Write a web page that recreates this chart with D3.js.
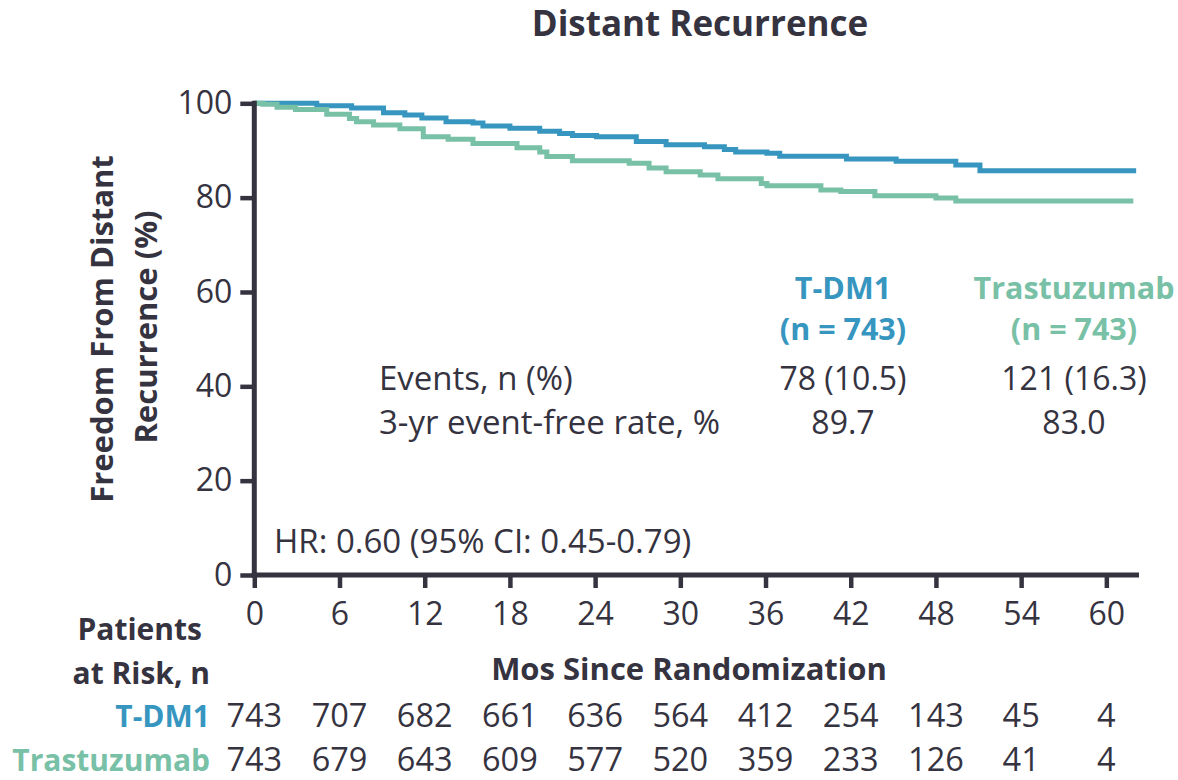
<!DOCTYPE html>
<html><head><meta charset="utf-8">
<script src="https://cdn.jsdelivr.net/npm/d3@7"></script>
<style>
body{margin:0;background:#fff;}
text{font-family:"Open Sans",Lato,sans-serif;}
</style></head>
<body><svg id="chart" width="1178" height="780"></svg>
<script>
// ---- data ----
const tdm1Times = [0, 4.4, 6.85, 9.1, 10.6, 11.8, 13.5, 15.4, 16.1, 18.0, 20.1, 21.5, 22.4, 24.1, 26.9, 29.0, 31.7, 33.1, 33.9, 36.1, 37.0, 41.7, 45.2, 49.4, 51.1, 62.1];
const tdm1Surv  = [100, 99.5, 99.0, 98.0, 97.5, 96.9, 96.1, 95.8, 95.2, 94.7, 94.1, 93.6, 93.2, 92.9, 91.9, 91.2, 90.8, 90.2, 89.7, 89.4, 88.8, 88.2, 87.7, 86.9, 85.7, 85.7];
const trasTimes = [0, 0.6, 1.6, 2.9, 5.1, 6.7, 7.2, 8.4, 10.25, 11.9, 13.65, 15.4, 18.5, 20.1, 20.6, 22.4, 26.4, 27.8, 29.0, 31.4, 32.65, 35.7, 36.1, 39.9, 41.3, 43.7, 48.0, 49.4, 61.9];
const trasSurv  = [100, 99.8, 99.15, 98.7, 97.7, 96.8, 96.1, 95.4, 94.6, 92.9, 92.4, 91.5, 90.6, 89.7, 88.7, 87.8, 87.3, 86.3, 85.5, 84.8, 84.0, 83.0, 82.5, 81.6, 81.3, 80.4, 79.9, 79.3, 79.3];
const xTicks = [0, 6, 12, 18, 24, 30, 36, 42, 48, 54, 60];
const yTicks = [0, 20, 40, 60, 80, 100];
const riskTdm1 = [743, 707, 682, 661, 636, 564, 412, 254, 143, 45, 4];
const riskTras = [743, 679, 643, 609, 577, 520, 359, 233, 126, 41, 4];
const armNames = ["T-DM1", "Trastuzumab"];
const armN = ["(n = 743)", "(n = 743)"];
const rowLabels = ["Events, n (%)", "3-yr event-free rate, %"];
const eventsVals = ["78 (10.5)", "121 (16.3)"];
const rateVals = ["89.7", "83.0"];

// ---- style ----
const DARK = "#35333f", BLUE = "#3796bf", GREEN = "#78c0a6";
const svg = d3.select("#chart");

const x = d3.scaleLinear().domain([0, 62.3]).range([254.3, 1139]);
const y = d3.scaleLinear().domain([0, 100]).range([575, 103.3]);

// title
svg.append("text").attr("x", 700).attr("y", 36).attr("text-anchor", "middle")
  .attr("font-size", 35).attr("font-weight", 700).attr("fill", DARK).text("Distant Recurrence");

// curves
const line = d3.line().curve(d3.curveStepAfter).x(d => x(d[0])).y(d => y(d[1]));
const series = [
  {t: tdm1Times, s: tdm1Surv, c: BLUE},
  {t: trasTimes, s: trasSurv, c: GREEN}
];
series.forEach(se => {
  svg.append("path").datum(se.t.map((t, i) => [t, se.s[i]]))
    .attr("d", line).attr("fill", "none").attr("stroke", se.c).attr("stroke-width", 5);
});

// axes
const yAxis = svg.append("g").attr("transform", `translate(${x(0)},0)`)
  .call(d3.axisLeft(y).tickValues(yTicks).tickSize(14).tickSizeOuter(0).tickPadding(8));
const xAxis = svg.append("g").attr("transform", `translate(0,${y(0)})`)
  .call(d3.axisBottom(x).tickValues(xTicks).tickSize(13).tickSizeOuter(0).tickPadding(14));
[yAxis, xAxis].forEach(g => {
  g.select(".domain").attr("stroke", DARK).attr("stroke-width", 5);
  g.selectAll(".tick line").attr("stroke", DARK).attr("stroke-width", 4.5);
  g.selectAll(".tick text").attr("fill", DARK).attr("font-size", 32).attr("font-family", "Open Sans");
});
yAxis.select(".domain").attr("d", `M0,${y(100) - 2.5}V${y(0) + 2.5}`);
xAxis.select(".domain").attr("d", `M${x(0) - 2.5},0H${x(62.3)}`);

// y axis title
const yt = svg.append("text").attr("transform", "rotate(-90)")
  .attr("text-anchor", "middle").attr("font-size", 31).attr("font-weight", 700).attr("fill", DARK);
yt.append("tspan").attr("x", -329).attr("y", 113).text("Freedom From Distant");
yt.append("tspan").attr("x", -327).attr("y", 157).text("Recurrence (%)");

// x axis title
svg.append("text").attr("x", 689).attr("y", 680).attr("text-anchor", "middle")
  .attr("font-size", 31).attr("font-weight", 700).attr("fill", DARK).text("Mos Since Randomization");

// HR
svg.append("text").attr("x", 274).attr("y", 553).attr("font-size", 33).attr("fill", DARK)
  .text("HR: 0.60 (95% CI: 0.45-0.79)");

// stats table
const colX = [843, 1074];
const colC = [BLUE, GREEN];
armNames.forEach((nm, i) => {
  svg.append("text").attr("x", colX[i]).attr("y", 299).attr("text-anchor", "middle")
    .attr("font-size", 30.5).attr("font-weight", 700).attr("fill", colC[i]).text(nm);
  svg.append("text").attr("x", colX[i]).attr("y", 340).attr("text-anchor", "middle")
    .attr("font-size", 30.5).attr("font-weight", 700).attr("fill", colC[i]).text(armN[i]);
  svg.append("text").attr("x", colX[i]).attr("y", 390).attr("text-anchor", "middle")
    .attr("font-size", 32).attr("fill", DARK).text(eventsVals[i]);
  svg.append("text").attr("x", colX[i]).attr("y", 434).attr("text-anchor", "middle")
    .attr("font-size", 32).attr("fill", DARK).text(rateVals[i]);
});
svg.append("text").attr("x", 379).attr("y", 390).attr("font-size", 33).attr("fill", DARK).text(rowLabels[0]);
svg.append("text").attr("x", 379).attr("y", 434).attr("font-size", 33).attr("fill", DARK).text(rowLabels[1]);

// risk table
svg.append("text").attr("x", 202).attr("y", 640).attr("text-anchor", "end")
  .attr("font-size", 30).attr("font-weight", 700).attr("fill", DARK).text("Patients");
svg.append("text").attr("x", 210).attr("y", 684).attr("text-anchor", "end")
  .attr("font-size", 30).attr("font-weight", 700).attr("fill", DARK).text("at Risk, n");
const riskRows = [{v: riskTdm1, c: BLUE, yy: 727}, {v: riskTras, c: GREEN, yy: 771}];
riskRows.forEach((r, i) => {
  svg.append("text").attr("x", 210).attr("y", r.yy).attr("text-anchor", "end")
    .attr("font-size", 30).attr("font-weight", 700).attr("fill", r.c).text(armNames[i]);
  svg.append("g").selectAll("text").data(r.v).join("text")
    .attr("x", (d, j) => x(xTicks[j])).attr("y", r.yy).attr("text-anchor", "middle")
    .attr("font-size", 32.5).attr("fill", DARK).text(d => d);
});
</script>
</body></html>
